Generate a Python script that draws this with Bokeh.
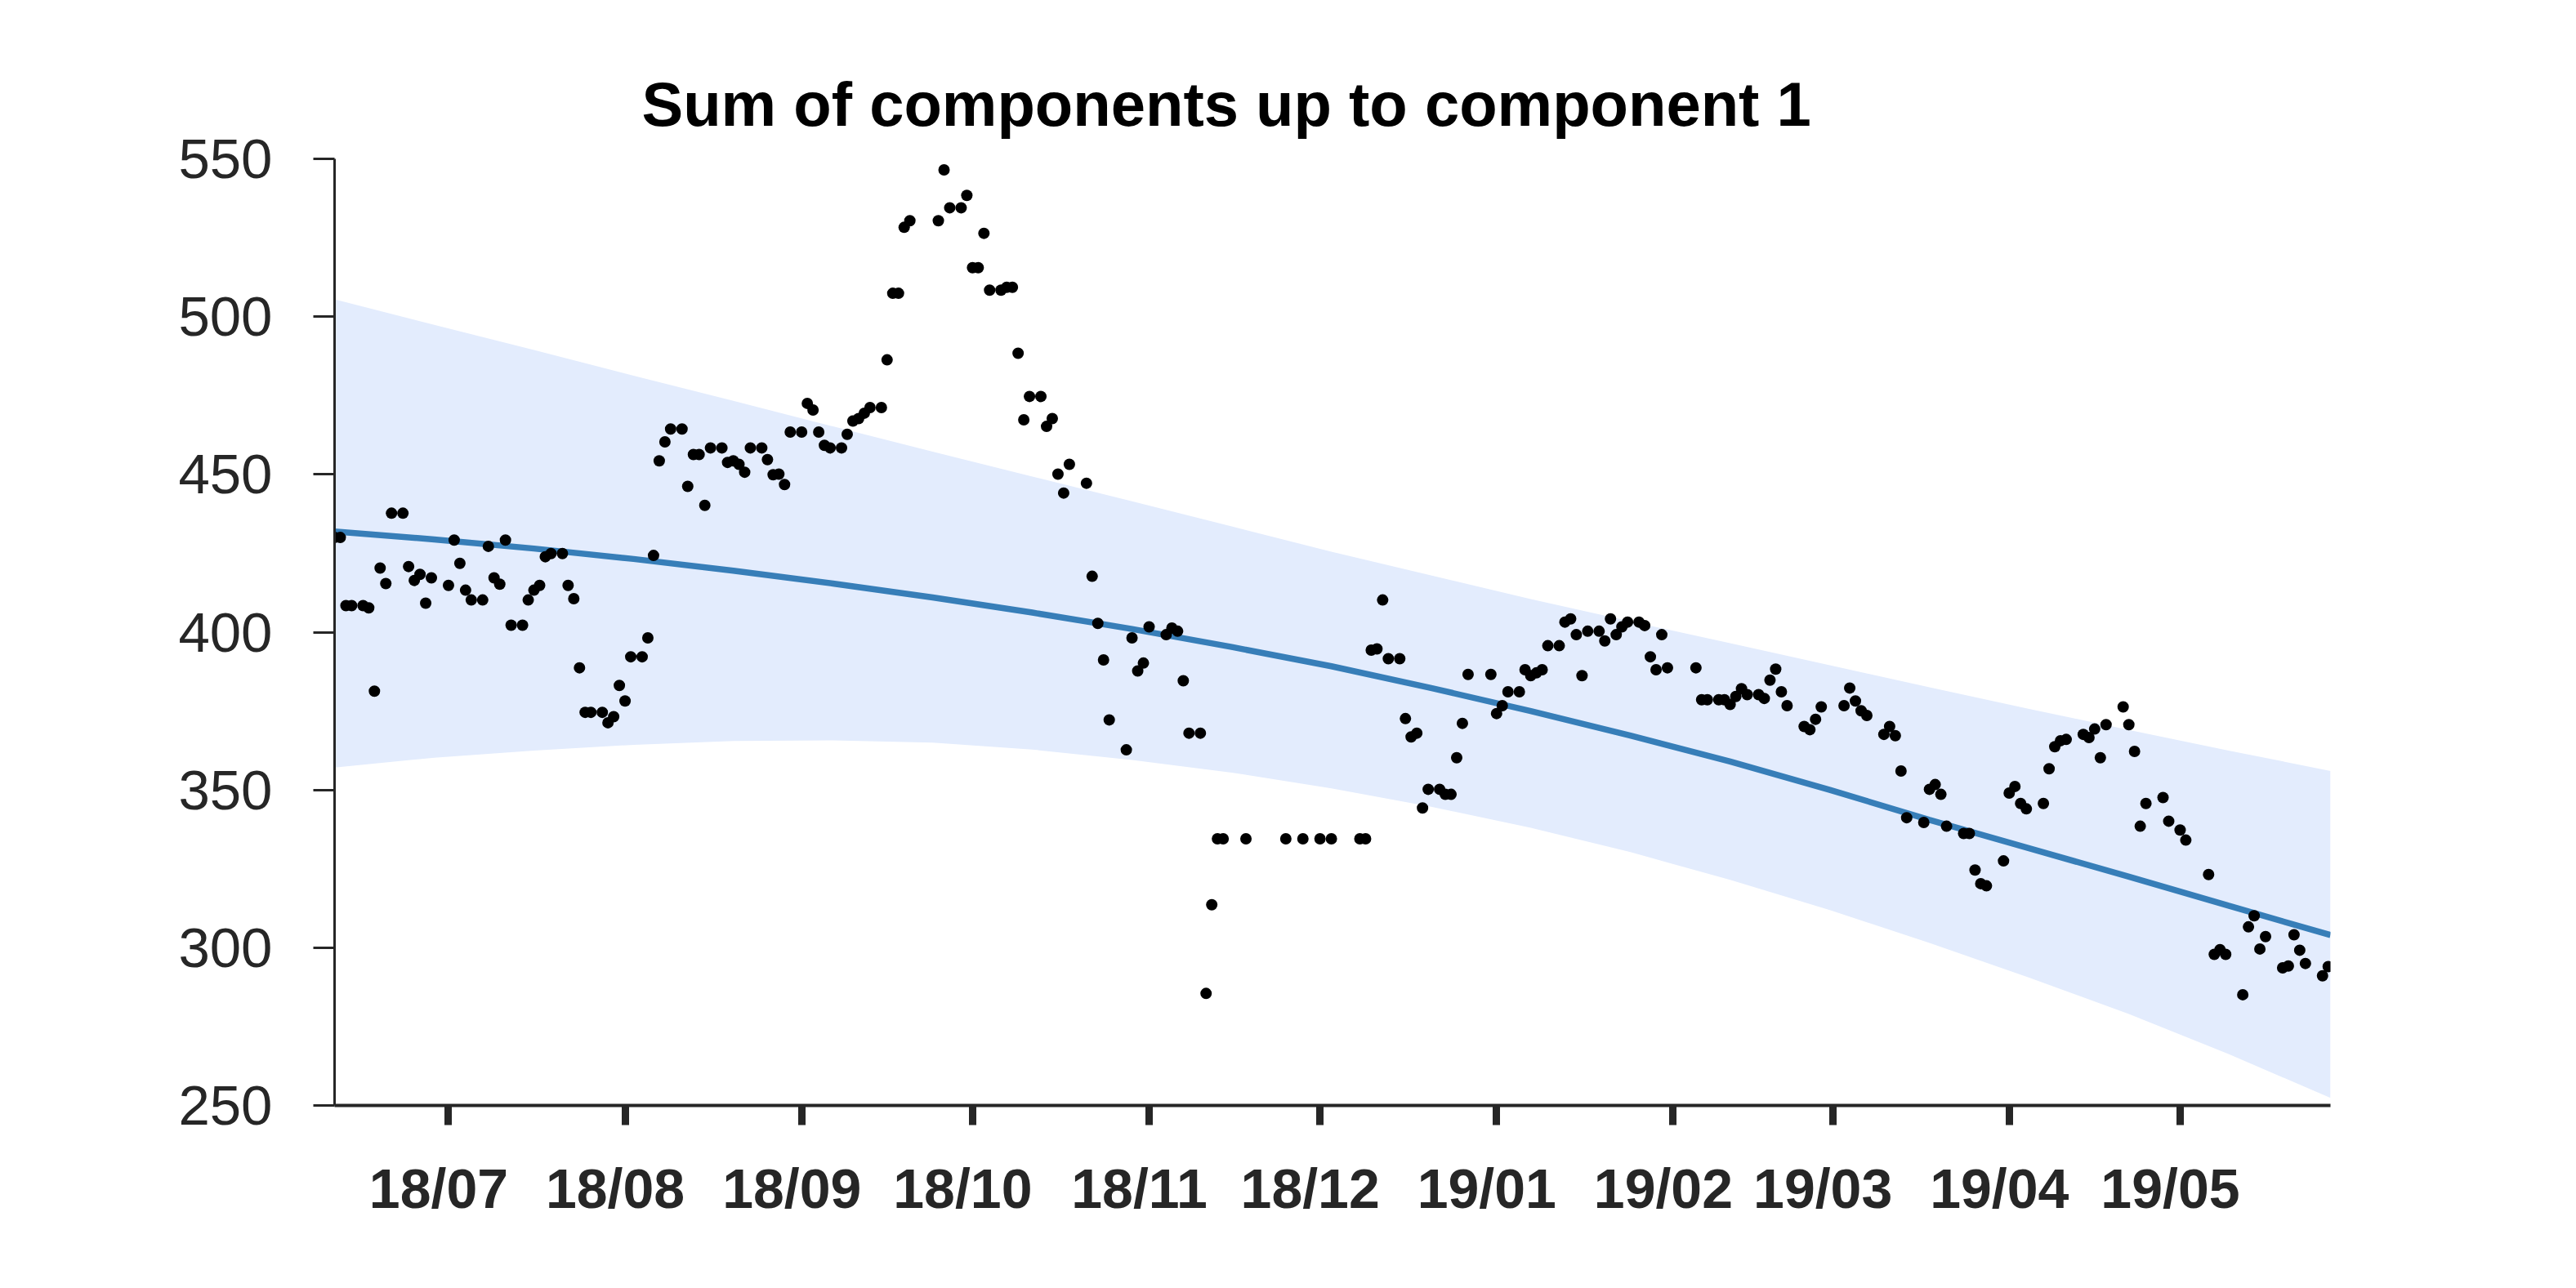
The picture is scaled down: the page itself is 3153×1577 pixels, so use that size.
import datetime as dt
from bokeh.plotting import figure
from bokeh.models import (Range1d, FixedTicker, DatetimeTickFormatter, Title, DatetimeAxis,
                          CustomJSTickFormatter)
from bokeh.embed import file_html
from bokeh.resources import INLINE

# ---------------- data ----------------
START = dt.datetime(2018, 6, 11)
END_DAY = 350.4

obs_day = [0, 1, 2, 3, 5, 6, 7, 8, 9, 10, 12, 13, 14, 15, 16, 17, 20, 21, 22, 23, 24, 26, 27, 28, 29, 30,
           31, 33, 34, 35, 36, 37, 38, 40, 41, 42, 43, 44, 45, 47, 48, 49, 50, 51, 52, 54, 55, 56, 57, 58,
           59, 61, 62, 63, 64, 65, 66, 68, 69, 70, 71, 72, 73, 75, 76, 77, 78, 79, 80, 82, 83, 84, 85, 86,
           87, 89, 90, 91, 92, 93, 94, 96, 97, 98, 99, 100, 101, 106, 107, 108, 110, 111, 112, 113, 114, 115,
           117, 118, 119, 120, 121, 122, 124, 125, 126, 127, 128, 129, 132, 133, 134, 135, 136, 139, 140,
           141, 142, 143, 146, 147, 148, 149, 150, 152, 153, 154, 155, 156, 160, 167, 170, 173, 175, 180,
           181, 182, 183, 184, 185, 187, 188, 189, 190, 191, 192, 194, 195, 196, 197, 198, 199, 203, 204,
           205, 206, 208, 209, 210, 211, 212, 213, 215, 216, 217, 218, 219, 220, 222, 223, 224, 225, 226,
           227, 229, 230, 231, 232, 233, 234, 239, 240, 241, 243, 244, 245, 246, 247, 248, 250, 251, 252,
           253, 254, 255, 258, 259, 260, 261, 265, 266, 267, 268, 269, 272, 273, 274, 275, 276, 279, 280,
           281, 282, 283, 286, 287, 288, 289, 290, 293, 294, 295, 296, 297, 300, 301, 302, 303, 304, 307,
           308, 309, 310, 311, 314, 315, 316, 317, 318, 321, 322, 324, 325, 329, 330, 331, 332, 335, 336,
           337, 338, 339, 342, 343, 344, 345, 346, 349, 350]
obs_value = [430.0, 430.0, 408.4, 408.4, 408.4, 407.7, 381.3, 420.3, 415.4, 437.7, 437.7, 420.8, 416.4,
             418.3, 409.2, 417.2, 414.8, 429.2, 421.8, 413.3, 410.2, 410.2, 427.2, 417.2, 415.2, 429.2,
             402.2, 402.2, 410.2, 413.3, 414.8, 423.9, 424.9, 424.9, 414.8, 410.6, 388.7, 374.6, 374.6,
             374.6, 371.3, 373.2, 383.1, 378.2, 392.2, 392.2, 398.2, 424.3, 454.3, 460.3, 464.4, 464.4,
             446.2, 456.3, 456.3, 440.2, 458.4, 458.4, 453.8, 454.3, 453.2, 450.7, 458.4, 458.4, 454.7,
             449.9, 450.1, 446.8, 463.4, 463.4, 472.5, 470.4, 463.4, 459.2, 458.4, 458.4, 462.7, 466.9,
             467.7, 469.4, 471.2, 471.2, 486.3, 507.4, 507.4, 528.3, 530.4, 530.4, 546.5, 534.5, 534.5,
             538.4, 515.5, 515.5, 526.4, 508.4, 508.4, 509.3, 509.3, 488.4, 467.3, 474.7, 474.7, 465.2,
             467.7, 450.1, 444.1, 453.2, 447.2, 417.7, 402.8, 391.2, 372.2, 362.7, 398.2, 387.7, 390.2,
             401.7, 399.2, 401.3, 400.3, 384.6, 368.0, 368.0, 285.5, 313.6, 334.5, 334.5, 334.5, 334.5,
             334.5, 334.5, 334.5, 334.5, 334.5, 394.3, 394.7, 410.2, 391.6, 391.6, 372.6, 366.8, 368.0,
             344.3, 350.2, 350.2, 348.6, 348.6, 360.2, 371.1, 386.6, 386.6, 374.2, 376.7, 381.1, 381.1,
             388.1, 386.2, 387.1, 388.1, 395.7, 395.7, 403.2, 404.2, 399.2, 386.2, 400.3, 400.3, 397.2,
             404.2, 399.2, 401.7, 403.2, 403.2, 402.1, 392.2, 388.1, 399.2, 388.7, 388.7, 378.6, 378.6,
             378.6, 378.6, 377.1, 379.6, 382.1, 380.2, 380.2, 379.0, 384.8, 388.3, 381.1, 376.7, 370.1,
             369.1, 372.4, 376.3, 376.7, 382.3, 378.2, 375.1, 373.6, 367.6, 370.1, 367.2, 356.0, 341.2,
             339.7, 350.2, 351.7, 348.6, 338.5, 336.2, 336.2, 324.6, 320.3, 319.6, 327.5, 349.0, 351.1,
             345.7, 344.0, 345.7, 356.7, 363.7, 365.6, 366.0, 367.6, 366.6, 369.3, 360.2, 370.7, 376.3,
             370.7, 362.2, 338.5, 345.7, 347.6, 340.1, 337.3, 334.1, 323.2, 297.9, 299.4, 297.9, 285.1,
             306.6, 310.1, 299.6, 303.5, 293.6, 294.2, 304.1, 299.2, 295.0, 291.1, 294.0]

# trend line and its band, read at regular positions along the curves
trend_day = [0, 17.5, 35, 52.5, 70, 87.5, 105, 122.5, 140, 157.5, 175, 192.5, 210, 227.5, 245, 262.5,
             280, 297.5, 315, 332.5, 350.4]
trend_value = [431.9, 429.4, 426.5, 423.2, 419.5, 415.4, 411.0, 406.2, 401.0, 395.3, 389.2, 382.3, 375.0,
               367.2, 359.0, 350.0, 340.5, 331.5, 322.5, 313.3, 304.0]
band_upper = [505.5, 497.4, 489.4, 481.3, 473.3, 465.2, 457.2, 449.3, 441.5, 433.5, 425.5, 418.0, 410.5,
              403.4, 396.5, 389.5, 382.5, 375.7, 369.0, 362.5, 356.0]
band_lower = [357.1, 360.2, 362.5, 364.3, 365.5, 365.7, 365.0, 362.8, 359.5, 355.5, 350.5, 344.7, 338.0,
              330.3, 321.5, 311.9, 301.5, 290.5, 279.0, 266.3, 252.4]

month_ticks = ["2018-07-01", "2018-08-01", "2018-09-01", "2018-10-01", "2018-11-01", "2018-12-01",
               "2019-01-01", "2019-02-01", "2019-03-01", "2019-04-01", "2019-05-01"]
y_ticks = [250, 300, 350, 400, 450, 500, 550]

TITLE = "Sum of components up to component 1"

# ---------------- build ----------------
def to_date(d):
    return START + dt.timedelta(days=d)

obs_x = [to_date(d) for d in obs_day]
trend_x = [to_date(d) for d in trend_day]
tick_ms = [dt.datetime.strptime(s, "%Y-%m-%d").replace(tzinfo=dt.timezone.utc).timestamp() * 1000
           for s in month_ticks]

FONT = "Liberation Sans"
INK = "#262626"
LABEL_SHIFT_DAYS = 1.72   # tick labels sit slightly left of their ticks in the reference

p = figure(x_axis_type="datetime", output_backend="svg", toolbar_location=None,
           frame_width=2443, frame_height=1159,
           min_border_left=409, min_border_right=278, min_border_top=194, min_border_bottom=197,
           x_range=Range1d(to_date(0), to_date(END_DAY)), y_range=Range1d(250, 550))
p.extra_x_ranges = {"labels": Range1d(to_date(LABEL_SHIFT_DAYS), to_date(END_DAY + LABEL_SHIFT_DAYS))}
p.title = Title(text=TITLE, align="left", offset=376, text_font=FONT, text_font_size="76px",
                text_font_style="bold", text_color="black", standoff=50)

p.varea(x=trend_x, y1=band_lower, y2=band_upper, fill_color="#e3ecfd", fill_alpha=1.0)
p.line(x=trend_x, y=trend_value, line_color="#377eb8", line_width=7.5)
p.scatter(x=obs_x, y=obs_value, size=14, color="black", line_color=None)

p.xgrid.visible = False
p.ygrid.visible = False
p.outline_line_color = None
p.background_fill_color = "white"
p.border_fill_color = "white"

# main x axis: line and ticks only
xa = p.xaxis[0]
xa.ticker = FixedTicker(ticks=tick_ms)
xa.formatter = CustomJSTickFormatter(code="return '';")
xa.axis_line_width = 4
xa.axis_line_color = INK
xa.major_tick_line_width = 9
xa.major_tick_line_color = INK
xa.major_tick_out = 24
xa.major_tick_in = 0
xa.minor_tick_line_color = None
xa.major_label_text_font_size = "1px"
xa.major_label_standoff = 0

# label axis (on a slightly shifted range, so labels land where the reference has them)
fmt = "%y/%m"
xl = DatetimeAxis(x_range_name="labels", ticker=FixedTicker(ticks=tick_ms),
                  formatter=DatetimeTickFormatter(microseconds=fmt, milliseconds=fmt, seconds=fmt,
                                                  minsec=fmt, minutes=fmt, hourmin=fmt, hours=fmt,
                                                  days=fmt, months=fmt, years=fmt))
xl.axis_line_color = None
xl.major_tick_line_color = None
xl.minor_tick_line_color = None
xl.major_tick_out = 0
xl.major_tick_in = 0
xl.major_label_text_font = FONT
xl.major_label_text_font_size = "68px"
xl.major_label_text_font_style = "bold"
xl.major_label_text_color = INK
xl.major_label_standoff = 39
p.add_layout(xl, "below")

ya = p.yaxis[0]
ya.ticker = FixedTicker(ticks=y_ticks)
ya.axis_line_width = 3
ya.axis_line_color = INK
ya.major_tick_line_width = 3
ya.major_tick_line_color = INK
ya.major_tick_out = 26
ya.major_tick_in = 0
ya.minor_tick_line_color = None
ya.major_label_text_font = FONT
ya.major_label_text_font_size = "69px"
ya.major_label_text_color = INK
ya.major_label_standoff = 50

open("out.html", "w").write(file_html(p, INLINE))
